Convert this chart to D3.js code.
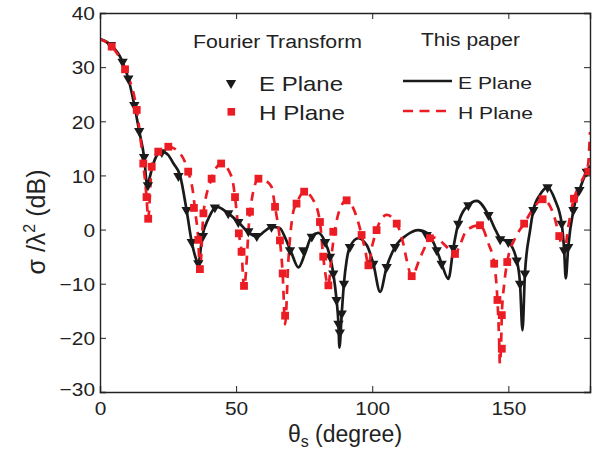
<!DOCTYPE html>
<html>
<head>
<meta charset="utf-8">
<script src="https://cdn.jsdelivr.net/npm/d3@7"></script>
<style>
  body { margin: 0; background: #fff; }
  svg { display: block; font-family: "Liberation Sans", Arial, Helvetica, sans-serif; }
</style>
</head>
<body>
<div id="chart"></div>
<script>
// "This paper" curves (degree, dB)
const eLineDeg = [0, 4, 8, 10.4, 12.6, 14.4, 16.2, 17.4, 18.2, 19.5, 21, 22.7, 25, 27, 29.4, 31.8, 33.7, 35.2, 36.1, 37.6, 39.8, 42.9, 47.1, 50.8, 54.5, 57.6, 60.5, 63, 66, 68, 70.4, 72.9, 75.3, 77.8, 80.2, 82.7, 84.5, 85.7, 86.9, 87.6, 87.95, 88.8, 89.6, 90.6, 91.8, 94.9, 98, 100.4, 102.9, 105.3, 108.4, 112.7, 116.9, 120.6, 123.7, 125.5, 128, 129.8, 131.6, 135.3, 138.4, 142.7, 145.5, 147, 150, 153.1, 154.3, 155.2, 156.1, 158, 159.2, 161.6, 164.4, 167.2, 169.6, 170.5, 171.1, 172, 173.9, 176.1, 178.8, 180];
const eLineDb  = [35.2, 34.1, 31.3, 27.9, 23, 18.2, 13.4, 8.0, 9.5, 12.0, 13.8, 14.4, 13.8, 12.2, 10, 3.6, -2.3, -5.3, -6.3, -1.2, 2.0, 4.2, 3.0, 1.4, -0.5, -1.3, -0.3, 0.5, 0.3, -1.5, -4.4, -7.0, -4.4, -1.2, -0.6, -2.3, -5, -8.1, -13, -17.4, -21.8, -15.5, -10, -5.7, -3.2, -1.6, -2.9, -6.3, -11.5, -6.9, -3.2, -1.0, -0.1, -0.8, -3.8, -6.3, -9.1, -3.4, 1.1, 4.5, 5.3, 2.7, -0.3, -1.6, -2.3, -5.7, -10, -18.6, -8.1, -0.1, 3.6, 6.4, 7.8, 5.4, 1.1, -3.8, -9, -3.2, 3.6, 7.3, 10.7, 11.8];

const hLineDeg = [0, 4.3, 9.2, 13.5, 15.9, 17.1, 17.7, 19, 21.4, 25.1, 28.8, 32.4, 34.3, 34.9, 36.1, 36.7, 38, 41, 44.5, 48.4, 49.6, 51, 52, 52.9, 55.1, 58.2, 60, 63, 64.3, 66.1, 67.1, 68, 69.2, 71, 72.2, 75, 78.4, 80.8, 82, 83.9, 85, 86.5, 88.2, 90.6, 94.3, 96.1, 97.5, 98.6, 100, 101.6, 105.3, 109, 111.4, 112.7, 114.5, 117.6, 120, 121.2, 123, 125.5, 128, 130.4, 132.5, 134.7, 139.6, 142.7, 144.8, 146, 146.6, 146.9, 147.4, 147.6, 148.5, 149.6, 152.5, 155.8, 159.2, 162.6, 166.5, 168.7, 170.5, 172, 174.1, 176.1, 178.5, 179.3, 180];
const hLineDb  = [35.2, 33.8, 29.6, 22.1, 12.2, 6.0, 2.0, 11.6, 14.4, 15.3, 14.4, 10.7, 6.4, 3.6, -1.9, -7.7, 3.0, 9.4, 12.2, 9.7, 6, -0.7, -4.1, -10.7, 3.3, 9.3, 9.2, 7.9, 4.2, -2, -8.1, -17.5, -5.7, 3.3, 4.8, 7, 5.4, 1.4, -5, -10.3, -5, 0.5, 3.9, 5.4, 2.3, -1, -4, -6.6, -3, -0.1, 2.7, 1.1, -2.6, -5.7, -8.6, -5.2, -2.6, -1.6, -1.5, -2.3, -3.5, -4.5, -2.5, -0.1, 0.8, -2.6, -6.3, -13, -20, -24.8, -20, -15.8, -10, -6, -1.6, 1.1, 3.9, 5.6, 3, -1.2, -4.4, 0.5, 5.7, 8.2, 10.7, 12, 18];

// "Fourier Transform" samples (degree, dB)
const eFtDeg = [4, 8.3, 10.4, 12.6, 14.4, 16.2, 17.6, 22.7, 28.8, 31.8, 33.7, 36.1, 37.8, 42.2, 47.1, 50.8, 54.5, 57.6, 63, 69.8, 74.7, 77.8, 82.7, 84.5, 85.7, 86.9, 87.6, 88.1, 88.8, 89.6, 91.8, 100.4, 105.3, 108.4, 120, 123.7, 125.5, 129.8, 131.6, 135.3, 142.7, 147, 150, 153.1, 154.3, 156.1, 159.2, 164.4, 169.6, 170.5, 172, 173.9, 176.1, 178.8];
const eFtDb  = [34.1, 31, 27.9, 23, 18.2, 13.4, 8.2, 14.3, 9.9, 3.6, -2.3, -6.2, -1.2, 4.1, 3.0, 1.4, -0.3, -1.2, 0.5, -3.8, -3.8, -1.3, -2.3, -5, -8.1, -13, -17.4, -19, -15.5, -10, -3.2, -6.3, -6.9, -3.2, -1, -3.8, -6.3, -3.4, 1.1, 4.5, 2.7, -1.8, -2.3, -5.7, -10, -8.1, 3.6, 7.8, 1.1, -3.8, -3.2, 3.6, 7.3, 10.7];

const hFtDeg = [4.3, 9.2, 13.5, 15.9, 17.1, 17.7, 19, 21.4, 25.1, 32.4, 34.5, 36.1, 36.7, 38, 41, 44.5, 49.6, 51, 52, 52.9, 55.1, 58.2, 64.3, 66.1, 67.1, 68, 72.2, 75, 80.8, 82, 83.9, 85.7, 90.6, 96.1, 98.6, 101.6, 109, 114.5, 121.2, 130.4, 139.6, 144.8, 146, 147.6, 147.6, 149.6, 155.8, 162.6, 168.7, 174.1, 179.4];
const hFtDb  = [33.8, 29.6, 22.1, 12.2, 6.0, 2.0, 11.6, 14.4, 15.3, 10.7, 4.0, -1.9, -7.3, 3.0, 9.4, 12.2, 6.0, -0.7, -4.1, -10.4, 3.3, 9.4, 4.2, -2, -8.1, -15.9, 4.8, 7, 1.4, -5, -10.3, -0.4, 5.4, -1, -6.6, -0.1, 1.1, -8.6, -1.6, -4.5, 0.8, -6.3, -13, -15.8, -22, -6, 1.1, 5.6, -1.2, 5.7, 10.7];

const xTicks = [0, 50, 100, 150];
const yTicks = [-30, -20, -10, 0, 10, 20, 30, 40];

const width = 601, height = 455;
const margin = {left: 100, right: 11, top: 13, bottom: 63};
const RED = "#ec1c24", BLACK = "#1a1a1a";

const svg = d3.select("#chart").append("svg")
    .attr("width", width)
    .attr("height", height);

const x = d3.scaleLinear().domain([0, 180]).range([margin.left, width - margin.right]);
const y = d3.scaleLinear().domain([-30, 40]).range([height - margin.bottom, margin.top]);

const pts = (xs, ys) => xs.map((d, i) => [d, ys[i]]);

const plot = svg.append("g");
plot.append("clipPath").attr("id", "clip")
    .append("rect")
    .attr("x", x(0)).attr("y", y(40))
    .attr("width", x(180) - x(0)).attr("height", y(-30) - y(40));

const line = d3.line()
    .x(d => x(d[0]))
    .y(d => y(d[1]))
    .curve(d3.curveMonotoneX);

const g = plot.append("g").attr("clip-path", "url(#clip)");

g.append("path")
    .datum(pts(eLineDeg, eLineDb))
    .attr("d", line)
    .attr("fill", "none")
    .attr("stroke", BLACK)
    .attr("stroke-width", 2.7);

g.append("path")
    .datum(pts(hLineDeg, hLineDb))
    .attr("d", line)
    .attr("fill", "none")
    .attr("stroke", RED)
    .attr("stroke-width", 2.7)
    .attr("stroke-dasharray", "9,7");

const tri = d3.symbol().type(d3.symbolTriangle).size(46);

g.selectAll("path.eft")
    .data(pts(eFtDeg, eFtDb))
    .enter().append("path")
    .attr("class", "eft")
    .attr("d", tri)
    .attr("transform", d => `translate(${x(d[0])},${y(d[1])}) rotate(180)`)
    .attr("fill", BLACK);

g.selectAll("rect.hft")
    .data(pts(hFtDeg, hFtDb))
    .enter().append("rect")
    .attr("class", "hft")
    .attr("x", d => x(d[0]) - 3.9)
    .attr("y", d => y(d[1]) - 3.9)
    .attr("width", 7.8)
    .attr("height", 7.8)
    .attr("fill", RED);

// axes with inward ticks, box around
const axisColor = "#222";
const xAxis = svg.append("g")
    .attr("transform", `translate(0,${y(-30)})`)
    .call(d3.axisBottom(x).tickValues(xTicks).tickSize(-6).tickPadding(10));
const yAxis = svg.append("g")
    .attr("transform", `translate(${x(0)},0)`)
    .call(d3.axisLeft(y).tickValues(yTicks).tickSize(-6).tickPadding(5)
        .tickFormat(d => d < 0 ? "\u2212" + Math.abs(d) : d));
const xTop = svg.append("g")
    .attr("transform", `translate(0,${y(40)})`)
    .call(d3.axisTop(x).tickValues(xTicks).tickSize(-6).tickFormat(""));
const yRight = svg.append("g")
    .attr("transform", `translate(${x(180)},0)`)
    .call(d3.axisRight(y).tickValues(yTicks).tickSize(-6).tickFormat(""));

[xAxis, yAxis, xTop, yRight].forEach(a => {
    a.select(".domain").attr("stroke", axisColor).attr("stroke-width", 1.4);
    a.selectAll(".tick line").attr("stroke", axisColor).attr("stroke-width", 1);
    a.selectAll(".tick text")
        .attr("fill", axisColor)
        .style("font-size", "19px")
        .style("font-family", "'Liberation Sans', Arial, sans-serif");
});
xAxis.selectAll(".tick text").attr("dy", "0.71em");
yAxis.selectAll(".tick text").attr("dy", "0.36em");
// the original lettering is a little wider than it is tall
[xAxis, yAxis].forEach(a => a.selectAll(".tick text").each(function() {
    const len = this.getComputedTextLength();
    d3.select(this).attr("textLength", len * 1.1).attr("lengthAdjust", "spacingAndGlyphs");
}));
// the "-30" label sits a bit higher near the corner
yAxis.selectAll(".tick").filter(d => d === -30).select("text").attr("dy", "0.2em");

// axis titles
svg.append("text")
    .attr("transform", `translate(45,222) rotate(-90)`)
    .attr("text-anchor", "middle")
    .attr("fill", axisColor)
    .style("font-size", "25px")
    .html('\u03c3 /\u03bb<tspan dy="-10" font-size="16px">2</tspan><tspan dy="10"> (dB)</tspan>');

svg.append("text")
    .attr("x", 345)
    .attr("y", 442)
    .attr("text-anchor", "middle")
    .attr("fill", axisColor)
    .style("font-size", "23px")
    .html('\u03b8<tspan dy="5" font-size="16px">s</tspan><tspan dy="-5"> (degree)</tspan>');

// legend
const legend = svg.append("g").attr("fill", axisColor);
const ltext = (tx, ty, str, size, len) => legend.append("text")
    .attr("x", tx).attr("y", ty)
    .style("font-size", size + "px")
    .attr("textLength", len)
    .attr("lengthAdjust", "spacingAndGlyphs")
    .text(str);

ltext(193, 48, "Fourier Transform", 18, 169);
ltext(421, 46, "This paper", 19, 99);
ltext(259, 91, "E Plane", 21, 84);
ltext(259, 120, "H Plane", 21, 86);
ltext(458, 89, "E Plane", 17, 74);
ltext(458, 119, "H Plane", 17, 75);

legend.append("path")
    .attr("d", tri)
    .attr("transform", "translate(231,83) rotate(180)")
    .attr("fill", BLACK);
legend.append("rect")
    .attr("x", 227.5).attr("y", 108).attr("width", 7.6).attr("height", 7.6)
    .attr("fill", RED);
legend.append("line")
    .attr("x1", 403).attr("x2", 452).attr("y1", 81).attr("y2", 81)
    .attr("stroke", BLACK).attr("stroke-width", 2.7);
legend.append("line")
    .attr("x1", 403).attr("x2", 450).attr("y1", 111).attr("y2", 111)
    .attr("stroke", RED).attr("stroke-width", 2.7)
    .attr("stroke-dasharray", "10,6.5");
</script>
</body>
</html>
